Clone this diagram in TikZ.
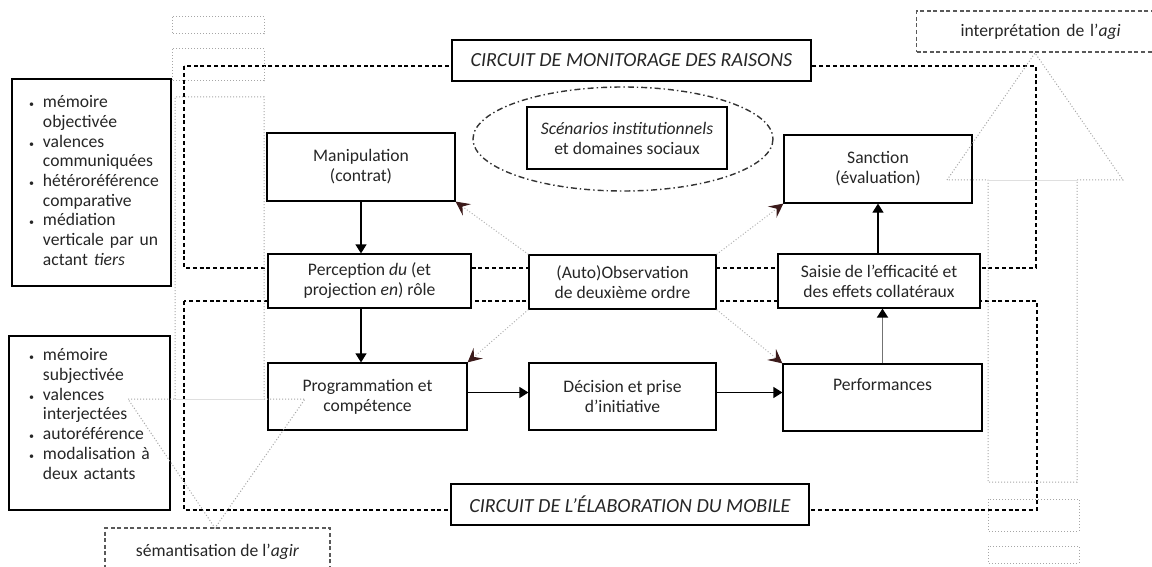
\documentclass[tikz,border=0pt]{standalone}
\usepackage{fontspec}
\setmainfont{Carlito}
\usepackage{tikz}
\usetikzlibrary{arrows.meta}
\definecolor{arrowred}{HTML}{3B1A1A}

\begin{document}
\begin{tikzpicture}[x=0.5pt, y=-0.5pt,
        font=\fontsize{8.8}{10}\selectfont, text=black!85,
        box/.style={draw, line width=0.6pt, fill=white, align=center, inner sep=0pt},
        listbox/.style={draw, line width=0.6pt, fill=white, align=left, inner ysep=0pt},
        titlebox/.style={box, font=\fontsize{10}{11}\selectfont\itshape},
        labelbox/.style={draw=black!65, dash pattern=on 2pt off 1.3pt, line width=0.6pt, inner sep=0pt},
        circuit/.style={dash pattern=on 2pt off 1.4pt, line width=0.9pt},
        blockarrow/.style={densely dotted, draw=gray!70, line width=0.5pt},
        arr/.style={-{Triangle[length=4.5pt,width=5.5pt]}, line width=0.6pt},
        obsarr/.style={densely dotted, draw=gray!60, line width=0.5pt, -{Stealth[length=7pt,width=7pt,inset=2.8pt,color=arrowred]}}]
        \useasboundingbox (0,0) rectangle (1152,567);
        \clip (0,0) rectangle (1152,567);
        % the two circuits
        \draw[circuit] (184,66) rectangle (1036,268);
        \draw[circuit] (184,301) rectangle (1037,510);
        \draw[dash pattern=on 3pt off 1.5pt on 0.7pt off 1.5pt, line width=0.7pt, black!80] (623,139) ellipse [x radius=150, y radius=52];
        % boxes
        \node[titlebox, minimum width=179.5pt, minimum height=20.5pt] (raisons) at (631.5,60.5) {CIRCUIT DE MONITORAGE DES RAISONS};
        \node[titlebox, minimum width=179pt, minimum height=20.5pt] (mobile) at (630,504.5) {CIRCUIT DE L’ÉLABORATION DU MOBILE};
        \node[box, minimum width=100pt, minimum height=31pt] (scen) at (627,138) {\textit{Scénarios institutionnels}\\ et domaines sociaux};
        \node[box, minimum width=94pt, minimum height=34pt] (manip) at (361,167) {Manipulation\\ (contrat)};
        \node[box, minimum width=101.5pt, minimum height=27pt] (percep) at (369.5,281) {Perception \textit{du} (et\\ projection \textit{en}) rôle};
        \node[box, minimum width=99.5pt, minimum height=33.5pt] (prog) at (367.5,396.5) {Programmation et\\ compétence};
        \node[box, minimum width=93.5pt, minimum height=27pt] (observ) at (622.5,282) {(Auto)Observation\\ de deuxième ordre};
        \node[box, minimum width=93.5pt, minimum height=33.5pt] (decis) at (622.5,396.5) {Décision et prise\\ d’initiative};
        \node[box, minimum width=94pt, minimum height=34pt] (sanct) at (878,169) {Sanction\\ (évaluation)};
        \node[box, minimum width=101pt, minimum height=27pt] (saisie) at (879,281) {Saisie de l’efficacité et\\ des effets collatéraux};
        \node[box, minimum width=99.5pt, minimum height=33.5pt] (perf) at (882.5,397.5) {Performances\\ \strut};
        % lists
        \node[listbox, inner xsep=8.5pt, text width=62.5pt, minimum height=103.5pt] (objbox) at (91.5,182.5)
            {\fontsize{8.8}{9.85}\selectfont\begin{tabular}{@{}l@{\hspace{4.5pt}}l@{}}
             {\tiny\textbullet} & mémoire\\ & objectivée\\
             {\tiny\textbullet} & valences\\ & communiquées\\
             {\tiny\textbullet} & hétéroréférence\\ & comparative\\
             {\tiny\textbullet} & médiation\\ & verticale par un\\ & actant \textit{tiers}
             \end{tabular}};
        \node[listbox, inner xsep=10pt, text width=60.5pt, minimum height=87pt] (subjbox) at (89.5,423)
            {\fontsize{8.8}{9.85}\selectfont\begin{tabular}{@{}l@{\hspace{4.5pt}}l@{}}
             {\tiny\textbullet} & mémoire\\ & subjectivée\\
             {\tiny\textbullet} & valences\\ & interjectées\\
             {\tiny\textbullet} & autoréférence\\
             {\tiny\textbullet} & modalisation à\\ & deux actants\\[7pt]
             \end{tabular}};
        \node[labelbox, minimum width=112.5pt, minimum height=24pt] (semant) at (217.5,552) {sémantisation de l’\textit{agir}};
        \node[labelbox, anchor=west, align=left, inner xsep=22pt, text width=106pt, minimum height=20.5pt] (interp) at (916,31.5) {interprétation de l’\textit{agi}};
        % connectors
        \draw[arr] (manip.south) -- (manip.south |- percep.north);
        \draw[arr] (percep.south -| manip.south) -- (prog.north -| manip.south);
        \draw[arr] ([yshift=2pt]prog.east) -- ([yshift=2pt]prog.east -| decis.west);
        \draw[arr] ([yshift=2pt]decis.east) -- ([yshift=2pt]decis.east -| perf.west);
        \draw[-{Triangle[length=4.5pt,width=5.5pt,color=black]}, draw=black!55, line width=0.9pt] (perf.north) -- (perf.north |- saisie.south);
        \draw[arr] (saisie.north -| sanct.south) -- (sanct.south);
        \draw[obsarr] (observ.north west) -- (manip.south east);
        \draw[obsarr] (observ.north east) -- (sanct.south west);
        \draw[obsarr] (observ.south west) -- (prog.north east);
        \draw[obsarr] (observ.south east) -- (perf.north west);
        % block arrows
        \draw[blockarrow] (175,399) -- (175,97) -- (264,97) -- (264,399) -- (305,399) -- (215,528) -- (128,399) -- (175,399);
        \draw[gray!25, line width=0.4pt] (175,399) -- (264,399);
        \draw[blockarrow] (988,180) -- (988,482) -- (1077,482) -- (1077,180) -- (1123,180) -- (1035,53) -- (947,180) -- (988,180);
        \draw[gray!25, line width=0.4pt] (988,180) -- (1077,180);
        \draw[blockarrow] (172,17) rectangle (264,34);
        \draw[blockarrow] (172,49) rectangle (264,81);
        \draw[blockarrow] (988,499) rectangle (1079,531);
        \draw[blockarrow] (988,546) rectangle (1079,563);
\end{tikzpicture}
\end{document}
